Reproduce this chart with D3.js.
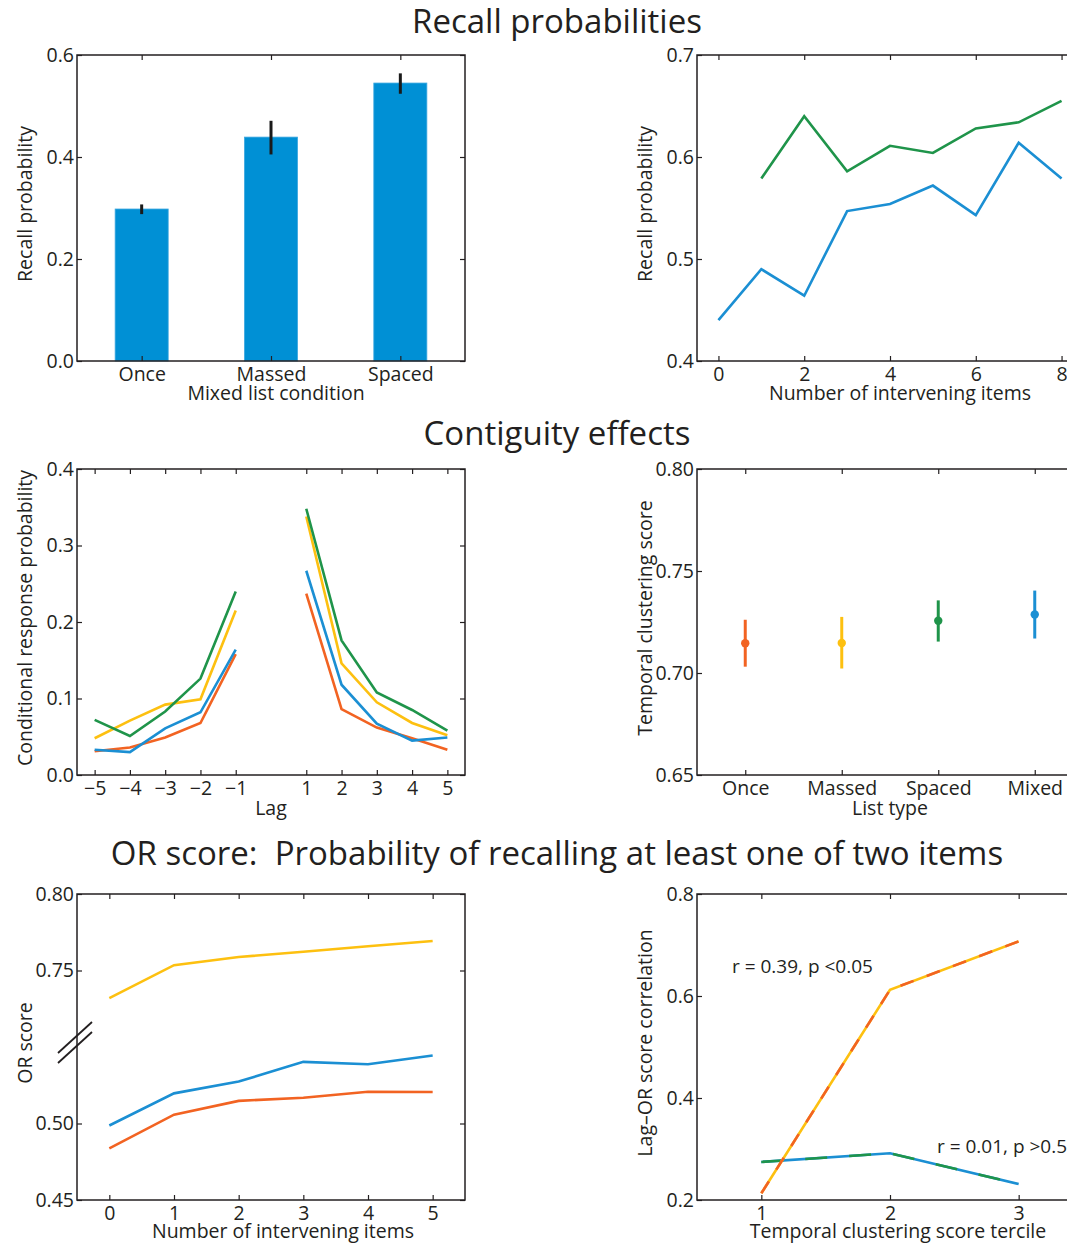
<!DOCTYPE html>
<html>
<head>
<meta charset="utf-8">
<script src="https://cdn.jsdelivr.net/npm/d3@7"></script>
<style>
  body { margin: 0; background: #fff; }
  text { font-family: "Open Sans", sans-serif; fill: #231f20; }
</style>
</head>
<body>
<svg id="fig"></svg>
<script>
var width = 1067;
var height = 1243;

// ---- data ----
var barConditions = ["Once", "Massed", "Spaced"];
var barValues = [0.298, 0.439, 0.545];
var barErrLow = [0.288, 0.405, 0.524];
var barErrHigh = [0.307, 0.471, 0.564];

var intervening = [0, 1, 2, 3, 4, 5, 6, 7, 8];
var recallMixed = [0.440, 0.490, 0.464, 0.547, 0.554, 0.572, 0.543, 0.614, 0.579];
var recallSpaced = [null, 0.579, 0.640, 0.586, 0.611, 0.604, 0.628, 0.634, 0.655];

var lags = [-5, -4, -3, -2, -1, 1, 2, 3, 4, 5];
var crpOnce = [0.031, 0.036, 0.049, 0.068, 0.158, 0.237, 0.086, 0.062, 0.048, 0.033];
var crpMassed = [0.048, 0.071, 0.092, 0.099, 0.215, 0.338, 0.146, 0.095, 0.068, 0.052];
var crpSpaced = [0.072, 0.051, 0.083, 0.126, 0.240, 0.348, 0.176, 0.108, 0.085, 0.058];
var crpMixed = [0.033, 0.030, 0.061, 0.082, 0.164, 0.267, 0.118, 0.067, 0.045, 0.049];

var listTypes = ["Once", "Massed", "Spaced", "Mixed"];
var tcsMean = [0.7146, 0.7147, 0.7256, 0.7287];
var tcsLow = [0.7031, 0.7022, 0.7154, 0.7169];
var tcsHigh = [0.7261, 0.7275, 0.7356, 0.7404];

var orItems = [0, 1, 2, 3, 4, 5];
var orMassed = [0.732, 0.7535, 0.7588, 0.7623, 0.7658, 0.7693];
var orMixed = [0.4987, 0.5197, 0.5274, 0.5403, 0.5387, 0.5445];
var orOnce = [0.4838, 0.5058, 0.5148, 0.5168, 0.5208, 0.5206];

var terciles = [1, 2, 3];
var corrHigh = [0.2131, 0.6122, 0.7071];
var corrLow = [0.2746, 0.2916, 0.2314];

var cOnce = "#f26322";
var cMassed = "#fdc010";
var cSpaced = "#1f944a";
var cMixed = "#1b8fd3";
var cBar = "#0090d5";
var typeColors = [cOnce, cMassed, cSpaced, cMixed];

// ---- layout ----
var svg = d3.select("#fig").attr("width", width).attr("height", height);

var leftX = 77, rightX = 697, panelW = 388, panelWR = 386, panelH = 306;
var rowY = [55, 469, 894];
var fs = 19.5;

function panel(px, py) {
  return svg.append("g").attr("transform", "translate(" + px + "," + py + ")");
}

function drawBox(g, x, y, w, xFmt, yFmt, xTicks, yTicks) {
  var bottom = d3.axisBottom(x).tickSizeInner(-5).tickSizeOuter(0).tickPadding(6);
  var top = d3.axisTop(x).tickSizeInner(-5).tickSizeOuter(0).tickFormat("");
  var left = d3.axisLeft(y).tickSizeInner(-5).tickSizeOuter(0).tickPadding(3);
  var right = d3.axisRight(y).tickSizeInner(-5).tickSizeOuter(0).tickFormat("");
  if (xTicks) { bottom.tickValues(xTicks); top.tickValues(xTicks); }
  if (yTicks) { left.tickValues(yTicks); right.tickValues(yTicks); }
  if (xFmt) bottom.tickFormat(xFmt);
  if (yFmt) left.tickFormat(yFmt);

  var gb = g.append("g").attr("transform", "translate(0," + panelH + ")").call(bottom);
  var gt = g.append("g").call(top);
  var gl = g.append("g").call(left);
  var gr = g.append("g").attr("transform", "translate(" + w + ",0)").call(right);
  [gb, gt, gl, gr].forEach(function(a) {
    a.select(".domain").remove();
    a.selectAll("line").attr("stroke", "#231f20").attr("stroke-width", 1.2);
    a.selectAll("text").attr("font-size", fs).attr("fill", "#231f20")
      .style("font-family", "'Open Sans', sans-serif");
  });
  g.append("rect").attr("width", w).attr("height", panelH)
    .attr("fill", "none").attr("stroke", "#231f20").attr("stroke-width", 1.5);
}

function xTitle(g, cx, dy, label) {
  g.append("text").attr("x", cx).attr("y", panelH + dy)
    .attr("text-anchor", "middle").attr("font-size", fs).text(label);
}

function yTitle(g, offset, label) {
  g.append("text")
    .attr("transform", "translate(" + offset + "," + (panelH / 2 - 4) + ") rotate(-90)")
    .attr("text-anchor", "middle").attr("font-size", fs).text(label);
}

function sectionTitle(cx, y, label) {
  svg.append("text").attr("x", cx).attr("y", y).attr("text-anchor", "middle")
    .attr("font-size", 33).style("white-space", "pre").text(label);
}

sectionTitle(557, 33, "Recall probabilities");
sectionTitle(557, 445, "Contiguity effects");
sectionTitle(557, 865, "OR score:  Probability of recalling at least one of two items");

var fmt1 = d3.format(".1f");
var fmt2 = d3.format(".2f");

// ---- panel A: bar chart ----
(function() {
  var g = panel(leftX, rowY[0]);
  var x = d3.scalePoint().domain(barConditions).range([0, panelW]).padding(0.5);
  var y = d3.scaleLinear().domain([0, 0.6]).range([panelH, 0]);
  var bw = x.step() * 0.41;
  g.selectAll("rect.bar").data(barConditions).enter().append("rect")
    .attr("class", "bar")
    .attr("x", function(d) { return x(d) - bw / 2; })
    .attr("width", bw)
    .attr("y", function(d, i) { return y(barValues[i]); })
    .attr("height", function(d, i) { return panelH - y(barValues[i]); })
    .attr("fill", cBar).attr("stroke", "#3aa6df").attr("stroke-width", 0.8);
  g.selectAll("line.err").data(barConditions).enter().append("line")
    .attr("x1", function(d) { return x(d); }).attr("x2", function(d) { return x(d); })
    .attr("y1", function(d, i) { return y(barErrLow[i]); })
    .attr("y2", function(d, i) { return y(barErrHigh[i]); })
    .attr("stroke", "#1a1a1a").attr("stroke-width", 3);
  drawBox(g, x, y, panelW, null, fmt1, null, [0, 0.2, 0.4, 0.6]);
  xTitle(g, panelW / 2 + 5, 39, "Mixed list condition");
  yTitle(g, 32 - leftX, "Recall probability");
})();

// ---- panel B: recall by intervening items ----
(function() {
  var g = panel(rightX, rowY[0]);
  var x = d3.scaleLinear().domain([-0.5, 8.5]).range([0, panelWR]);
  var y = d3.scaleLinear().domain([0.4, 0.7]).range([panelH, 0]);
  var line = d3.line()
    .defined(function(d) { return d[1] !== null; })
    .x(function(d) { return x(d[0]); }).y(function(d) { return y(d[1]); });
  [[recallSpaced, cSpaced], [recallMixed, cMixed]].forEach(function(s) {
    g.append("path").datum(intervening.map(function(k, i) { return [k, s[0][i]]; }))
      .attr("d", line).attr("fill", "none").attr("stroke", s[1]).attr("stroke-width", 2.6);
  });
  drawBox(g, x, y, panelWR, d3.format("d"), fmt1, [0, 2, 4, 6, 8], [0.4, 0.5, 0.6, 0.7]);
  xTitle(g, panelWR / 2 + 10, 39, "Number of intervening items");
  yTitle(g, 652 - rightX, "Recall probability");
})();

// ---- panel C: lag-CRP ----
(function() {
  var g = panel(leftX, rowY[1]);
  var x = d3.scaleLinear().domain([-5.5, 5.5]).range([0, panelW]);
  var y = d3.scaleLinear().domain([0, 0.4]).range([panelH, 0]);
  var line = d3.line().x(function(d) { return x(d[0]); }).y(function(d) { return y(d[1]); });
  [[crpOnce, cOnce], [crpMassed, cMassed], [crpSpaced, cSpaced], [crpMixed, cMixed]].forEach(function(s) {
    var pts = lags.map(function(k, i) { return [k, s[0][i]]; });
    [pts.filter(function(p) { return p[0] < 0; }), pts.filter(function(p) { return p[0] > 0; })]
      .forEach(function(seg) {
        g.append("path").datum(seg).attr("d", line).attr("fill", "none")
          .attr("stroke", s[1]).attr("stroke-width", 2.6);
      });
  });
  drawBox(g, x, y, panelW, d3.format("d"), fmt1, lags, [0, 0.1, 0.2, 0.3, 0.4]);
  xTitle(g, panelW / 2, 40, "Lag");
  yTitle(g, 32 - leftX, "Conditional response probability");
})();

// ---- panel D: temporal clustering score ----
(function() {
  var g = panel(rightX, rowY[1]);
  var x = d3.scalePoint().domain(listTypes).range([0, panelWR]).padding(0.5);
  var y = d3.scaleLinear().domain([0.65, 0.80]).range([panelH, 0]);
  g.selectAll("line.err").data(listTypes).enter().append("line")
    .attr("x1", function(d) { return x(d); }).attr("x2", function(d) { return x(d); })
    .attr("y1", function(d, i) { return y(tcsLow[i]); })
    .attr("y2", function(d, i) { return y(tcsHigh[i]); })
    .attr("stroke", function(d, i) { return typeColors[i]; }).attr("stroke-width", 3);
  g.selectAll("circle").data(listTypes).enter().append("circle")
    .attr("cx", function(d) { return x(d); })
    .attr("cy", function(d, i) { return y(tcsMean[i]); })
    .attr("r", 4.2).attr("fill", function(d, i) { return typeColors[i]; });
  drawBox(g, x, y, panelWR, null, fmt2, null, [0.65, 0.70, 0.75, 0.80]);
  xTitle(g, panelWR / 2, 40, "List type");
  yTitle(g, 652 - rightX, "Temporal clustering score");
})();

// ---- panel E: OR score with broken axis ----
(function() {
  var g = panel(leftX, rowY[2]);
  var x = d3.scaleLinear().domain([-0.5, 5.5]).range([0, panelW]);
  var y = d3.scaleLinear().domain([0.45, 0.55, 0.70, 0.80])
    .range([panelH, panelH / 2, panelH / 2, 0]);
  var line = d3.line().x(function(d) { return x(d[0]); }).y(function(d) { return y(d[1]); });
  [[orMassed, cMassed], [orMixed, cMixed], [orOnce, cOnce]].forEach(function(s) {
    g.append("path").datum(orItems.map(function(k, i) { return [k, s[0][i]]; }))
      .attr("d", line).attr("fill", "none").attr("stroke", s[1]).attr("stroke-width", 2.6);
  });
  drawBox(g, x, y, panelW, d3.format("d"), fmt2, orItems, [0.45, 0.50, 0.75, 0.80]);
  // axis break marks
  var yb = y(0.55);
  [-5, 5].forEach(function(off) {
    g.append("line")
      .attr("x1", -19).attr("y1", yb + off + 11)
      .attr("x2", 15).attr("y2", yb + off - 20)
      .attr("stroke", "#231f20").attr("stroke-width", 1.8);
  });
  xTitle(g, panelW / 2 + 12, 37.5, "Number of intervening items");
  yTitle(g, 32 - leftX, "OR score");
})();

// ---- panel F: lag-OR correlation ----
(function() {
  var g = panel(rightX, rowY[2]);
  var x = d3.scaleLinear().domain([0.5, 3.5]).range([0, panelWR]);
  var y = d3.scaleLinear().domain([0.2, 0.8]).range([panelH, 0]);
  var line = d3.line().x(function(d) { return x(d[0]); }).y(function(d) { return y(d[1]); });
  var lowPts = terciles.map(function(k, i) { return [k, corrLow[i]]; });
  var highPts = terciles.map(function(k, i) { return [k, corrHigh[i]]; });
  g.append("path").datum(lowPts).attr("d", line).attr("fill", "none")
    .attr("stroke", cMixed).attr("stroke-width", 2.6);
  g.append("path").datum(lowPts).attr("d", line).attr("fill", "none")
    .attr("stroke", cSpaced).attr("stroke-width", 2.6).attr("stroke-dasharray", "22,22");
  g.append("path").datum(highPts).attr("d", line).attr("fill", "none")
    .attr("stroke", cMassed).attr("stroke-width", 2.6);
  g.append("path").datum(highPts).attr("d", line).attr("fill", "none")
    .attr("stroke", cOnce).attr("stroke-width", 2.6).attr("stroke-dasharray", "14,14");
  drawBox(g, x, y, panelWR, d3.format("d"), fmt1, terciles, [0.2, 0.4, 0.6, 0.8]);
  g.append("text").attr("x", 732 - rightX).attr("y", 973 - rowY[2])
    .attr("font-size", 19).text("r = 0.39, p <0.05");
  g.append("text").attr("x", 937 - rightX).attr("y", 1153 - rowY[2])
    .attr("font-size", 19).text("r = 0.01, p >0.5");
  xTitle(g, panelWR / 2 + 8, 37.5, "Temporal clustering score tercile");
  yTitle(g, 652 - rightX, "Lag\u2013OR score correlation");
})();
</script>
</body>
</html>
